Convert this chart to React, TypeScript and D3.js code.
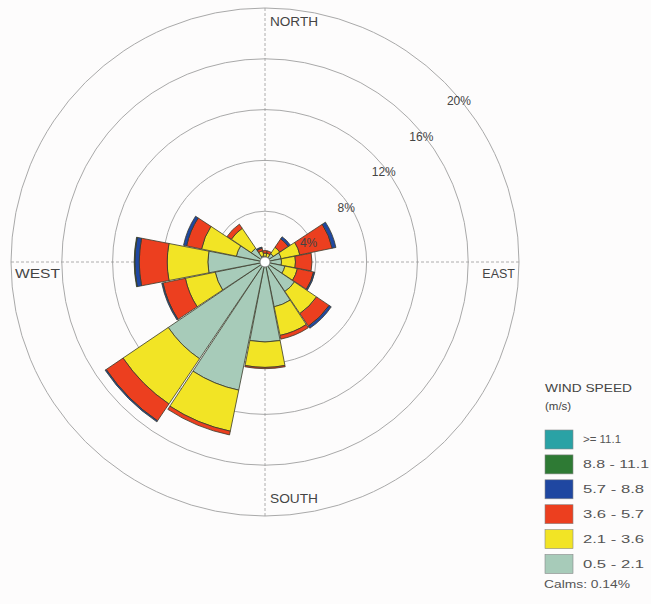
import React from "react";
import * as d3 from "d3";

const directions = ["N", "NNE", "NE", "ENE", "E", "ESE", "SE", "SSE", "S", "SSW", "SW", "WSW", "W", "WNW", "NW", "NNW"];
// percent frequency per speed class (m/s)
const s05_21 = [0.4, 0.4, 0.8, 1.3, 1.3, 1.6, 2.8, 3.6, 6.3, 10.3, 9.2, 4.0, 4.5, 2.3, 1.3, 0.5];
const s21_36 = [0.3, 0.3, 0.6, 1.5, 1.1, 1.0, 2.1, 2.3, 2.0, 3.3, 4.3, 2.4, 3.2, 2.8, 1.9, 0.4];
const s36_57 = [0.2, 0.2, 0.8, 2.6, 1.3, 1.3, 1.2, 0.3, 0.1, 0.3, 1.6, 1.8, 2.2, 1.2, 0.4, 0.2];
const s57_88 = [0.0, 0.0, 0.2, 0.3, 0.0, 0.1, 0.2, 0.0, 0.0, 0.0, 0.1, 0.1, 0.35, 0.25, 0.0, 0.1];
const s88_111 = [0, 0, 0, 0, 0, 0, 0, 0, 0, 0, 0, 0, 0.05, 0, 0, 0];
const s111 = [0, 0, 0, 0, 0, 0, 0, 0, 0, 0, 0, 0, 0, 0, 0, 0];

const speedKeys = ["s05_21", "s21_36", "s36_57", "s57_88", "s88_111", "s111"];
const speedLabels = ["0.5 - 2.1", "2.1 - 3.6", "3.6 - 5.7", "5.7 - 8.8", "8.8 - 11.1", ">= 11.1"];
const speedColors = ["#a7cbb9", "#f2e425", "#ec3f1f", "#1f47a1", "#2e7a34", "#2aa2a5"];
const ringValues = [4, 8, 12, 16, 20];
const ringLabels = ["4%", "8%", "12%", "16%", "20%"];
const calmsText = "Calms: 0.14%";

const W = 651;
const H = 604;
const cx = 265;
const cy = 262;
const R = 254;

export default function App() {
  const rows = directions.map((d, i) => ({
    dir: d,
    s05_21: s05_21[i],
    s21_36: s21_36[i],
    s36_57: s36_57[i],
    s57_88: s57_88[i],
    s88_111: s88_111[i],
    s111: s111[i],
  }));
  const stacked = d3.stack<any>().keys(speedKeys)(rows);
  const r = d3.scaleLinear().domain([0, 20]).range([0, R]);
  const angle = d3
    .scaleBand<string>()
    .domain(directions)
    .range([-Math.PI / 16, 2 * Math.PI - Math.PI / 16])
    .paddingInner(0.03)
    .paddingOuter(0.015);
  const arc = d3.arc<any>();

  const legendTop = 430;
  const legendStep = 24.9;
  const legendOrder = [5, 4, 3, 2, 1, 0];
  const legendWidths = [38, 66, 61, 61, 61, 61];

  return (
    <svg
      width={W}
      height={H}
      style={{ position: "absolute", left: 0, top: 0, background: "#fdfcfc" }}
      fontFamily="'Liberation Sans', Arial, sans-serif"
    >
      <rect width={W} height={H} fill="#fdfcfc" />
      {/* rings */}
      {ringValues.map((v) => (
        <circle key={v} cx={cx} cy={cy} r={r(v)} fill="none" stroke="#a9a9a9" strokeWidth={1} />
      ))}
      {/* axes */}
      <line x1={cx - R} x2={cx + R} y1={cy} y2={cy} stroke="#9a9a9a" strokeWidth={0.8} strokeDasharray="3,2" />
      <line x1={cx} x2={cx} y1={cy - R} y2={cy + R} stroke="#9a9a9a" strokeWidth={0.8} strokeDasharray="3,2" />

      {/* petals */}
      <g transform={`translate(${cx},${cy})`}>
        {stacked.map((layer, k) => (
          <g key={speedKeys[k]}>
            {layer.map((d, i) => {
              if (d[1] - d[0] <= 0) return null;
              const a0 = angle(directions[i])!;
              const a1 = a0 + angle.bandwidth();
              return (
                <path
                  key={i}
                  d={arc({ innerRadius: r(d[0]), outerRadius: r(d[1]), startAngle: a0, endAngle: a1 }) || ""}
                  fill={speedColors[k]}
                  stroke="#3a3a2a"
                  strokeWidth={0.8}
                  strokeLinejoin="round"
                />
              );
            })}
          </g>
        ))}
        <circle r={5} fill="#ffffff" stroke="#777" strokeWidth={0.8} />
      </g>

      {/* ring labels */}
      {ringValues.map((v, i) => (
        <text
          key={v}
          x={cx + r(v) * 0.74 + 6}
          y={cy - r(v) * 0.7 + 17 + 4}
          textAnchor="middle"
          fontSize={12}
          fill="#444"
        >
          {ringLabels[i]}
        </text>
      ))}

      {/* direction labels */}
      <text x={cx + 5} y={cy - R + 18} fontSize={12.5} fill="#444" textLength={48} lengthAdjust="spacingAndGlyphs">NORTH</text>
      <text x={cx + R - 4} y={cy + 16} fontSize={12.5} fill="#444" textAnchor="end">EAST</text>
      <text x={cx - R + 4} y={cy + 16} fontSize={12.5} fill="#444" textLength={45} lengthAdjust="spacingAndGlyphs">WEST</text>
      <text x={cx + 5} y={cy + R - 13} fontSize={12.5} fill="#444" textLength={48} lengthAdjust="spacingAndGlyphs">SOUTH</text>

      {/* legend */}
      <text x={545} y={392} fontSize={11.5} fill="#444" textLength={87} lengthAdjust="spacingAndGlyphs">WIND SPEED</text>
      <text x={545} y={410} fontSize={11.5} fill="#444">(m/s)</text>
      {legendOrder.map((k, j) => (
        <g key={k}>
          <rect
            x={545}
            y={legendTop + j * legendStep}
            width={28}
            height={19}
            fill={speedColors[k]}
            stroke="#888"
            strokeWidth={0.6}
          />
          <text
            x={583}
            y={legendTop + j * legendStep + 13}
            fontSize={11}
            fill="#555"
            textLength={legendWidths[j]}
            lengthAdjust="spacingAndGlyphs"
          >
            {speedLabels[k]}
          </text>
        </g>
      ))}
      <text x={544} y={588} fontSize={11} fill="#555" textLength={86} lengthAdjust="spacingAndGlyphs">{calmsText}</text>
    </svg>
  );
}
